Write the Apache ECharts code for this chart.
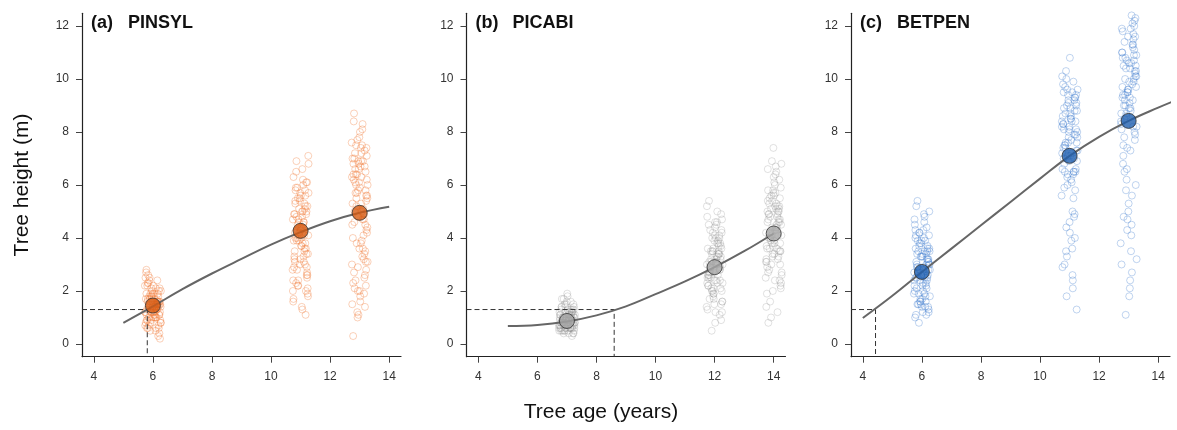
<!DOCTYPE html>
<html>
<head>
<meta charset="utf-8">
<script src="https://cdn.jsdelivr.net/npm/echarts@6/dist/echarts.min.js"></script>
<style>
  html, body { margin: 0; padding: 0; background: #fff; }
  #chart { width: 1177px; height: 430px; }
</style>
</head>
<body>
<div id="chart"></div>
<script>
// tick labels
const xTicks = [4, 6, 8, 10, 12, 14]
const yTicks = [0, 2, 4, 6, 8, 10, 12]

// panels
const panelLetters = ['(a)', '(b)', '(c)']
const panelNames = ['PINSYL', 'PICABI', 'BETPEN']
const sampleAges = [[6, 11, 13], [7, 12, 14], [6, 11, 13]]
const meanHeights = [[1.45, 4.27, 4.95], [0.87, 2.9, 4.17], [2.72, 7.1, 8.42]]

// fitted curves
const curveAgesA = [5, 6, 7, 8, 9, 10, 11, 12, 13, 14]
const curveA = [0.8, 1.42, 2.07, 2.66, 3.21, 3.75, 4.22, 4.63, 4.95, 5.18]
const curveAgesB = [5, 6, 7, 8, 9, 10, 11, 12, 13, 14]
const curveB = [0.68, 0.72, 0.85, 1.08, 1.42, 1.88, 2.36, 2.9, 3.5, 4.17]
const curveAgesC = [4, 5, 6, 7, 8, 9, 10, 11, 12, 13, 14, 14.6]
const curveC = [0.98, 1.82, 2.72, 3.6, 4.48, 5.36, 6.24, 7.1, 7.82, 8.42, 8.92, 9.2]

// 1.3 m threshold and age where curve reaches it
const threshold = 1.3
const crossAges = [5.81, 8.6, 4.43]

// horizontal jitter of the raw points
const jitter = [
    -0.21, 0.14, -0.05, 0.24, -0.17, 0.03, 0.19, -0.25, 0.08, -0.11,
    0.22, -0.02, -0.19, 0.11, 0.26, -0.08, 0.05, -0.23, 0.17, -0.14,
    0.01, 0.2, -0.26, 0.09, -0.04, 0.15, -0.18, 0.25, -0.1, 0.06,
    -0.22, 0.12, -0.01, 0.18, -0.15, 0.23, -0.07, 0.04, -0.24, 0.16,
    -0.12, 0.21, -0.03, 0.1, -0.2, 0.27, -0.09, 0.02, -0.16, 0.13,
    0.24, -0.06, 0.07, -0.27, 0.19, -0.13, 0.0, 0.22, -0.18, 0.11,
    0.05, -0.21, 0.16, -0.08, 0.26, -0.15, 0.02, 0.2, -0.24, 0.09,
    -0.03, 0.13, -0.19, 0.23, -0.11, 0.07, -0.26, 0.18, -0.05, 0.25,
    -0.14, 0.01, 0.21, -0.09, 0.14, -0.22, 0.06, -0.17, 0.27, -0.01,
    0.1, -0.25, 0.17, -0.06, 0.22, -0.12, 0.04, -0.2, 0.15, -0.04,
]

// raw tree heights
const heightsA6 = [
    0.9, 1.6, 2.1, 1.2, 0.6, 1.8, 1.4, 2.5, 1.0, 1.7, 0.4, 1.3, 2.2, 1.5, 0.8, 1.9, 1.1, 2.7, 1.6, 0.7,
    1.4, 2.0, 1.2, 0.5, 1.8, 1.5, 2.3, 0.9, 1.3, 1.7, 2.8, 1.0, 1.6, 0.3, 1.4, 2.1, 1.2, 1.9, 0.8, 1.5,
    2.4, 1.1, 1.7, 0.6, 1.3, 2.0, 1.6, 1.0, 2.6, 1.4, 0.2, 1.8, 1.2, 2.2, 0.7, 1.5, 1.9, 1.1, 1.6, 1.3,
    1.5, 1.1, 1.9, 0.8, 1.4, 2.3, 1.2, 0.6, 1.7, 1.0, 2.0, 1.3, 0.9, 1.6, 2.5, 1.4, 0.7, 1.8, 1.2, 1.5,
    1.0, 2.2, 1.6, 0.5, 1.3, 1.9, 1.1, 1.7, 0.8, 1.4, 2.1, 1.2, 1.6, 0.9, 1.5, 1.8, 1.3, 0.6, 2.4, 1.0,
]
const heightsA11 = [
    3.2, 5.1, 4.4, 2.1, 5.8, 3.7, 4.9, 1.6, 6.2, 4.0, 2.7, 5.4, 3.1, 4.6, 7.1, 2.4, 5.0, 3.9, 1.1, 4.8,
    5.6, 3.4, 2.0, 6.0, 4.2, 3.0, 5.3, 1.8, 4.5, 6.6, 2.9, 4.1, 5.7, 3.6, 2.3, 5.2, 4.7, 1.4, 6.3, 3.8,
    4.3, 2.6, 5.5, 3.3, 4.9, 6.8, 2.2, 4.0, 5.9, 3.5, 1.9, 4.6, 5.0, 2.8, 6.1, 3.9, 4.4, 2.5, 5.4, 3.1,
    4.8, 3.3, 5.6, 2.2, 4.1, 6.5, 3.7, 5.0, 1.7, 4.5, 3.0, 5.3, 4.2, 2.6, 5.9, 3.8, 4.7, 2.0, 5.1, 3.4,
    6.9, 4.3, 2.9, 5.5, 3.6, 4.9, 1.3, 4.0, 5.7, 3.2, 4.6, 2.4, 5.2, 3.9, 6.1, 2.8, 4.4, 3.5, 5.8, 4.1,
]
const heightsA13 = [
    6.4, 3.2, 5.8, 7.1, 2.1, 6.7, 4.5, 1.5, 7.5, 5.2, 2.8, 6.1, 8.7, 3.6, 5.5, 1.2, 6.9, 4.0, 7.3, 2.4,
    5.9, 6.5, 3.0, 8.1, 4.8, 1.9, 7.0, 5.6, 3.8, 6.3, 0.3, 5.1, 7.8, 2.6, 6.6, 4.3, 1.0, 7.4, 5.3, 3.4,
    6.0, 2.2, 6.8, 4.7, 8.4, 3.1, 5.7, 1.6, 7.2, 4.1, 6.2, 2.9, 5.0, 7.6, 3.5, 6.4, 2.0, 5.4, 4.6, 6.9,
    5.3, 6.8, 2.5, 7.7, 4.4, 6.1, 1.8, 5.8, 7.0, 3.3, 6.6, 4.9, 2.7, 7.4, 5.5, 3.9, 6.3, 1.4, 6.9, 4.2,
    5.7, 8.0, 3.1, 6.4, 4.7, 2.3, 7.2, 5.0, 6.0, 3.6, 8.3, 4.5, 6.7, 2.0, 5.6, 7.5, 3.8, 6.2, 4.9, 1.1,
]
const heightsB7 = [
    0.8, 1.1, 0.6, 1.4, 0.9, 0.5, 1.2, 0.7, 1.0, 1.7, 0.4, 0.9, 1.3, 0.6, 0.8, 1.5, 0.7, 1.1, 0.3, 1.0,
    1.9, 0.8, 0.5, 1.2, 0.9, 0.6, 1.4, 0.7, 1.0, 0.4, 1.1, 0.8, 1.6, 0.6, 0.9, 1.3, 0.5, 0.7, 1.0, 1.2,
    0.8, 0.4, 1.5, 0.9, 0.6, 1.1, 0.7, 1.8, 0.8, 1.0, 0.5, 1.2, 0.9, 0.6, 1.3, 0.7, 1.0, 0.8, 1.4, 0.6,
    0.9, 0.6, 1.2, 0.8, 1.0, 0.5, 1.3, 0.7, 0.9, 1.1, 0.6, 1.6, 0.8, 1.0, 0.4, 1.2, 0.7, 0.9, 1.4, 0.6,
    1.0, 0.8, 1.1, 0.5, 1.3, 0.7, 0.9, 1.7, 0.8, 1.0, 0.6, 1.2, 0.9, 0.7, 1.5, 0.8, 1.1, 0.5, 1.0, 0.9,
]
const heightsB12 = [
    2.6, 3.5, 1.8, 4.2, 2.9, 1.2, 3.8, 2.3, 4.6, 3.1, 0.9, 2.7, 5.4, 3.3, 1.6, 4.0, 2.4, 3.6, 1.1, 2.9,
    4.4, 2.1, 3.0, 5.0, 1.9, 3.4, 2.6, 4.7, 0.5, 3.2, 2.2, 3.9, 1.5, 2.8, 4.3, 3.6, 2.0, 3.1, 1.3, 4.1,
    2.5, 3.7, 1.7, 3.0, 4.5, 2.3, 3.4, 0.8, 2.7, 3.8, 2.0, 4.2, 3.3, 1.4, 2.9, 3.5, 2.4, 4.9, 3.1, 2.6,
    3.0, 2.2, 4.0, 3.5, 1.6, 2.8, 4.6, 3.2, 2.5, 3.8, 1.9, 3.4, 2.7, 4.3, 2.1, 3.1, 5.2, 2.4, 3.6, 1.2,
    2.9, 4.1, 3.3, 2.0, 3.7, 2.6, 4.5, 1.7, 3.0, 3.9, 2.3, 4.8, 2.8, 3.5, 1.5, 3.2, 4.0, 2.5, 3.4, 2.1,
]
const heightsB14 = [
    4.6, 3.2, 5.4, 2.1, 4.9, 3.8, 6.2, 1.4, 5.1, 4.0, 3.5, 5.8, 2.7, 4.4, 6.8, 3.0, 5.2, 1.9, 4.7, 3.6,
    5.6, 2.4, 4.2, 6.5, 3.3, 5.0, 0.8, 4.5, 3.9, 5.7, 2.9, 4.8, 7.4, 3.5, 5.3, 2.2, 4.1, 6.0, 3.1, 4.6,
    1.6, 5.5, 3.7, 4.3, 6.6, 2.6, 5.1, 3.4, 4.9, 1.2, 5.9, 3.8, 4.4, 2.5, 5.2, 4.0, 6.3, 3.0, 4.7, 3.6,
    4.3, 5.0, 3.3, 5.6, 4.1, 2.8, 6.1, 4.6, 3.7, 5.3, 2.0, 4.9, 5.8, 3.5, 4.2, 6.7, 3.1, 5.1, 4.4, 2.3,
    5.5, 3.9, 4.7, 1.0, 5.2, 3.6, 6.4, 4.0, 2.7, 5.7, 4.5, 3.2, 5.0, 6.9, 3.8, 4.8, 2.4, 5.4, 4.1, 3.4,
]
const heightsC6 = [
    2.5, 3.4, 1.6, 4.1, 2.9, 1.2, 3.7, 2.2, 4.6, 1.9, 3.1, 2.6, 5.2, 1.4, 3.5, 2.8, 4.3, 1.0, 2.4, 3.9,
    1.7, 3.2, 2.7, 4.8, 1.5, 3.0, 2.1, 3.6, 0.8, 2.9, 4.0, 1.8, 3.3, 2.5, 5.4, 1.3, 3.8, 2.3, 2.0, 4.4,
    1.5, 3.1, 2.6, 3.5, 1.1, 2.8, 4.2, 2.2, 3.4, 1.6, 3.0, 2.4, 4.9, 1.9, 3.6, 2.7, 1.4, 3.2, 2.5, 3.9,
    2.8, 3.6, 2.1, 4.2, 3.0, 1.5, 3.3, 2.6, 4.5, 1.9, 3.8, 2.3, 3.1, 1.2, 2.7, 4.0, 2.4, 3.5, 1.7, 5.0,
    2.9, 3.4, 1.4, 3.7, 2.2, 4.3, 2.6, 3.0, 1.8, 3.9, 2.5, 4.7, 3.2, 1.6, 2.8, 3.5, 2.0, 4.1, 1.1, 3.3,
]
const heightsC11 = [
    8.3, 6.5, 9.4, 7.6, 3.0, 8.9, 5.8, 10.1, 7.2, 4.4, 9.0, 6.9, 8.1, 2.4, 7.8, 9.6, 6.2, 8.6, 4.9, 7.4,
    10.8, 6.5, 8.4, 3.6, 9.2, 7.0, 5.9, 8.8, 1.8, 7.7, 9.8, 6.4, 8.2, 4.0, 7.5, 9.1, 6.0, 8.5, 2.9, 7.9,
    10.3, 6.6, 8.0, 5.0, 9.5, 7.3, 3.3, 8.7, 6.5, 9.9, 1.3, 7.1, 8.4, 5.6, 9.3, 7.6, 4.6, 8.1, 6.8, 2.1,
    8.6, 7.4, 9.2, 6.3, 8.0, 9.7, 7.1, 8.4, 6.6, 9.5, 7.8, 5.5, 8.9, 7.3, 10.0, 6.1, 8.2, 9.3, 7.6, 6.9,
    8.7, 4.2, 7.9, 9.0, 6.5, 8.3, 3.9, 7.5, 9.6, 8.1, 2.6, 7.2, 8.8, 6.4, 9.4, 3.5, 8.5, 7.0, 4.8, 9.1,
]
const heightsC13 = [
    9.7, 11.2, 7.4, 10.5, 4.8, 9.1, 12.0, 8.3, 3.5, 10.8, 7.9, 11.6, 9.4, 5.6, 10.1, 8.7, 2.4, 11.9, 9.9, 6.5,
    10.6, 8.0, 12.6, 4.1, 9.5, 11.3, 7.1, 10.3, 1.1, 8.9, 11.0, 9.8, 5.0, 10.9, 8.5, 12.3, 6.2, 9.3, 3.0, 11.5,
    10.0, 7.7, 9.6, 4.5, 11.8, 8.2, 10.4, 1.8, 9.0, 12.1, 6.0, 10.7, 8.8, 3.8, 11.1, 9.2, 5.3, 10.2, 7.5, 2.7,
    10.4, 9.3, 11.7, 8.6, 10.9, 7.8, 9.9, 12.2, 8.1, 10.6, 9.5, 11.3, 6.8, 10.1, 9.0, 11.9, 8.4, 10.7, 4.3, 9.7,
    11.4, 8.9, 10.3, 5.8, 9.2, 11.0, 7.3, 10.5, 3.2, 9.6, 12.4, 8.7, 10.0, 6.6, 11.6, 9.4, 2.1, 10.8, 8.2, 4.7,
]

const rawHeights = [
    [heightsA6, heightsA11, heightsA13],
    [heightsB7, heightsB12, heightsB14],
    [heightsC6, heightsC11, heightsC13],
]
const curves = [[curveAgesA, curveA], [curveAgesB, curveB], [curveAgesC, curveC]]

const xMin = 3.6, xMax = 14.4, yMin = -0.48, yMax = 12.48
const meanColors = ['#d65a12', '#a6a6a6', '#1f5faf']
const cloudColors = ['rgba(240,120,50,0.42)', 'rgba(140,140,140,0.32)', 'rgba(60,120,205,0.4)']
const gridLefts = [82, 466.5, 851]

const chart = echarts.init(document.getElementById('chart'))

const grids = [], xAxes = [], yAxes = [], series = [], graphics = []

gridLefts.forEach((left, p) => {
    grids.push({ left: left, top: 13.3, width: 319, height: 343.4 })
    xAxes.push({
        type: 'value', gridIndex: p, min: xMin, max: xMax,
        axisLine: { show: true, onZero: false, lineStyle: { color: '#222', width: 1.2 } },
        axisTick: { show: true, length: 6, customValues: xTicks, lineStyle: { color: '#444' } },
        axisLabel: { customValues: xTicks, margin: 14, color: '#333', fontSize: 12, fontFamily: 'Liberation Sans' },
        splitLine: { show: false },
    })
    yAxes.push({
        type: 'value', gridIndex: p, min: yMin, max: yMax,
        axisLine: { show: true, onZero: false, lineStyle: { color: '#222', width: 1.2 } },
        axisTick: { show: true, length: 6, customValues: yTicks, lineStyle: { color: '#444' } },
        axisLabel: { customValues: yTicks, margin: 13, color: '#333', fontSize: 12, fontFamily: 'Liberation Sans' },
        splitLine: { show: false },
    })

    // raw points
    rawHeights[p].forEach((heights, k) => {
        series.push({
            type: 'scatter', xAxisIndex: p, yAxisIndex: p, symbol: 'circle', symbolSize: 7,
            silent: true, z: 1,
            itemStyle: { color: 'rgba(0,0,0,0)', borderColor: cloudColors[p], borderWidth: 1 },
            data: heights.map((h, i) => [sampleAges[p][k] + jitter[i], h]),
        })
    })

    // fitted curve
    const [ages, vals] = curves[p]
    series.push({
        type: 'line', xAxisIndex: p, yAxisIndex: p, smooth: 0.4, symbol: 'none', clip: false, z: 3,
        lineStyle: { color: '#666', width: 2 },
        data: ages.map((a, i) => [a, vals[i]]),
    })

    // dashed guide to 1.3 m
    series.push({
        type: 'line', xAxisIndex: p, yAxisIndex: p, symbol: 'none', z: 2,
        lineStyle: { color: '#333', width: 1, type: [5, 3] },
        data: [[xMin, threshold], [crossAges[p], threshold], [crossAges[p], yMin]],
    })

    // means
    series.push({
        type: 'scatter', xAxisIndex: p, yAxisIndex: p, symbol: 'circle', symbolSize: 15, z: 4,
        itemStyle: { color: meanColors[p], borderColor: '#333', borderWidth: 1 },
        data: sampleAges[p].map((a, i) => [a, meanHeights[p][i]]),
    })

    graphics.push({
        type: 'text', left: left + 9, top: 14,
        style: { text: panelLetters[p], fontSize: 18, fontWeight: 'bold', fill: '#111', fontFamily: 'Liberation Sans' },
    })
    graphics.push({
        type: 'text', left: left + 46, top: 14,
        style: { text: panelNames[p], fontSize: 18, fontWeight: 'bold', fill: '#111', fontFamily: 'Liberation Sans' },
    })
})

graphics.push({
    type: 'text', x: 22, y: 185, rotation: Math.PI / 2,
    style: { text: 'Tree height (m)', fontSize: 21, fill: '#111', fontFamily: 'Liberation Sans', align: 'center', verticalAlign: 'middle' },
})
graphics.push({
    type: 'text', x: 601, y: 412,
    style: { text: 'Tree age (years)', fontSize: 21, fill: '#111', fontFamily: 'Liberation Sans', align: 'center', verticalAlign: 'middle' },
})

chart.setOption({
    animation: false,
    grid: grids,
    xAxis: xAxes,
    yAxis: yAxes,
    series: series,
    graphic: graphics,
})
</script>
</body>
</html>
